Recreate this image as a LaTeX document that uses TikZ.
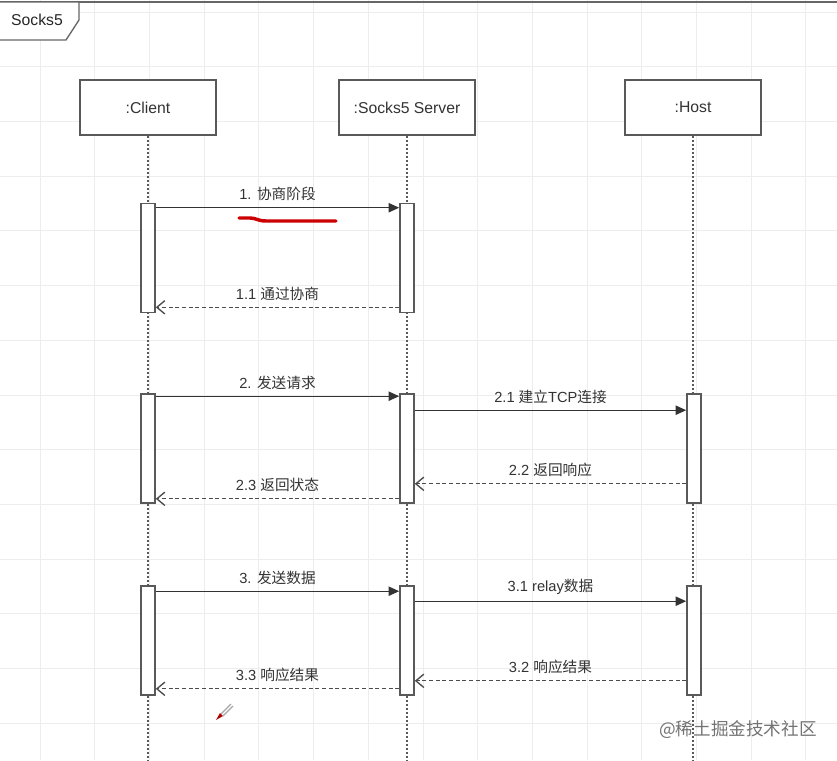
\documentclass[tikz,border=0pt]{standalone}
\usepackage{fontspec}
\setmainfont{Liberation Sans}
\newfontfamily\cjk{Noto Sans CJK SC}
\newcommand{\zh}[1]{{\cjk #1}}
\usetikzlibrary{arrows.meta,calc}
\begin{document}
\begin{tikzpicture}[x=0.75pt,y=-0.75pt,
  gridc/.style={draw=black!7,line width=0.6pt},
  head/.style={draw=black!65,line width=1.2pt,fill=white,minimum width=102pt,minimum height=41.25pt,inner sep=0pt,font=\fontsize{11.8}{13}\selectfont,text=black!80},
  bar/.style={draw=black!65,line width=1.2pt,fill=white,minimum width=10.5pt,minimum height=81.75pt,inner sep=0pt},
  life/.style={draw=black!65,line width=1pt,dash pattern=on 1.5pt off 1.5pt},
  msg/.style={draw=black!80,line width=1pt,-{Triangle[length=8pt,width=7pt]}},
  ret/.style={draw=black!70,line width=1pt,dash pattern=on 3pt off 2pt,-{Straight Barb[length=6pt,width=10pt]}},
  lbl/.style={font=\fontsize{11}{12}\selectfont,text=black!80,above=3.5pt,inner sep=1pt}
]
\useasboundingbox (0,0) rectangle (837,760);
\fill[white] (0,0) rectangle (837,760);
% grid
\foreach \i in {0,...,14} \draw[gridc] ({40+54.7*\i},0) -- ({40+54.7*\i},760);
\foreach \i in {0,...,13} \draw[gridc] (0,{12+54.7*\i}) -- (837,{12+54.7*\i});
% frame tab
\draw[black!60,line width=1pt] (0,2) -- (837,2);
\draw[black!60,line width=1pt,fill=white] (0,2) -- (79,2) -- (79,20) -- (66,40) -- (0,40);
\node[font=\fontsize{11.8}{13}\selectfont,text=black!85] (title) at (37,20) {Socks5};
% heads
\node[head] (client) at (148,107.5) {:Client};
\node[head] (server) at (407,107.5) {:Socks5 Server};
\node[head] (host) at (693,107.5) {:Host};
% lifelines
\draw[life] (client.south) -- ++(0,625);
\draw[life] (server.south) -- ++(0,625);
\draw[life] (host.south) -- ++(0,625);
% activation bars
\node[bar] (c1) at (148,258) {};
\node[bar] (s1) at (407,258) {};
\node[bar] (c2) at (148,448.5) {};
\node[bar] (s2) at (407,448.5) {};
\node[bar] (h2) at (694,448.5) {};
\node[bar] (c3) at (148,640.5) {};
\node[bar] (s3) at (407,640.5) {};
\node[bar] (h3) at (694,640.5) {};
% messages
\draw[msg] ($(c1.north east)+(0,5)$) -- node[lbl] {1. \zh{协商阶段}} ($(s1.north west)+(0,5)$);
\draw[ret] ($(s1.south west)+(0,-6)$) -- node[lbl] {1.1 \zh{通过协商}} ($(c1.south east)+(0,-6)$);
\draw[msg] ($(c2.north east)+(0,3)$) -- node[lbl] {2. \zh{发送请求}} ($(s2.north west)+(0,3)$);
\draw[msg] ($(s2.north east)+(0,17)$) -- node[lbl] {2.1 \zh{建立}TCP\zh{连接}} ($(h2.north west)+(0,17)$);
\draw[ret] ($(h2.south west)+(0,-20)$) -- node[lbl] {2.2 \zh{返回响应}} ($(s2.south east)+(0,-20)$);
\draw[ret] ($(s2.south west)+(0,-5)$) -- node[lbl] {2.3 \zh{返回状态}} ($(c2.south east)+(0,-5)$);
\draw[msg] ($(c3.north east)+(0,6)$) -- node[lbl] {3. \zh{发送数据}} ($(s3.north west)+(0,6)$);
\draw[msg] ($(s3.north east)+(0,16)$) -- node[lbl] {3.1 relay\zh{数据}} ($(h3.north west)+(0,16)$);
\draw[ret] ($(h3.south west)+(0,-15)$) -- node[lbl] {3.2 \zh{响应结果}} ($(s3.south east)+(0,-15)$);
\draw[ret] ($(s3.south west)+(0,-7)$) -- node[lbl] {3.3 \zh{响应结果}} ($(c3.south east)+(0,-7)$);
% red underline
\draw[red!80!black,line width=2.6pt,line cap=round] (239,218) -- (250,218) .. controls (256,218) and (258,221) .. (266,221) -- (336,221);
% pen cursor
\draw[black!35,line width=1pt] (221,714) -- (231,704);
\draw[black!35,line width=1pt] (223,716) -- (233,706);
\fill[red!70!black] (216,720) -- (220,713) -- (223,716) -- cycle;
% watermark
\node[font=\cjk\fontsize{13.2}{15}\selectfont,text=black!55] (wm) at (738,730) {@稀土掘金技术社区};
\end{tikzpicture}
\end{document}
